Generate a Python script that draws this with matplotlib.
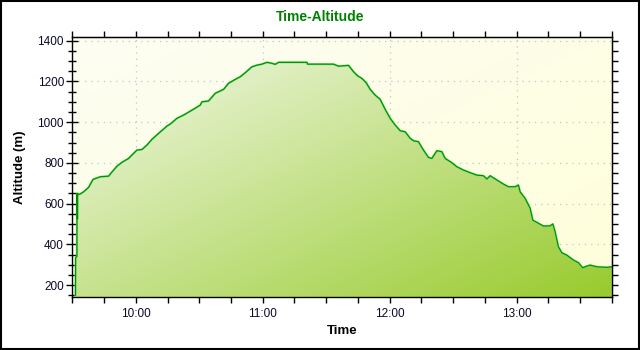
import numpy as np
import pandas as pd
import matplotlib
matplotlib.use('Agg')
import matplotlib.pyplot as plt
import matplotlib.dates as mdates
from matplotlib.patches import Rectangle

plt.rcParams['font.family'] = ['Liberation Sans', 'DejaVu Sans']

# track log: clock time and altitude in metres
times = [
    '09:31:30', '09:31:34', '09:32:10', '09:32:13', '09:32:25', '09:32:30',
    '09:33:19', '09:35:20', '09:37:42', '09:39:47', '09:43:14', '09:47:09',
    '09:48:46', '09:51:07', '09:53:29', '09:56:36', '09:58:58', '10:00:34',
    '10:02:56', '10:05:17', '10:07:39', '10:10:46', '10:14:44', '10:16:18',
    '10:19:28', '10:22:35', '10:26:33', '10:30:28', '10:31:16', '10:34:23',
    '10:37:34', '10:41:29', '10:43:50', '10:47:49', '10:49:22', '10:51:44',
    '10:54:54', '10:57:16', '10:59:37', '11:01:59', '11:04:21', '11:05:55',
    '11:07:28', '11:20:53', '11:21:10', '11:31:53', '11:33:27', '11:35:49',
    '11:40:32', '11:42:54', '11:44:47', '11:46:52', '11:48:54', '11:50:47',
    '11:53:09', '11:55:31', '11:57:52', '12:00:14', '12:02:36', '12:04:58',
    '12:07:19', '12:09:41', '12:11:14', '12:13:36', '12:15:58', '12:18:20',
    '12:19:56', '12:22:18', '12:24:40', '12:26:13', '12:29:23', '12:31:45',
    '12:34:52', '12:38:02', '12:41:12', '12:44:19', '12:45:56', '12:47:29',
    '12:50:39', '12:53:46', '12:56:08', '12:59:17', '13:00:51', '13:01:39',
    '13:04:01', '13:06:23', '13:07:39', '13:09:32', '13:12:40', '13:15:49',
    '13:17:06', '13:18:11', '13:19:44', '13:21:21', '13:23:43', '13:26:50',
    '13:29:11', '13:31:16', '13:33:10', '13:34:43', '13:37:53', '13:42:37',
    '13:45:00',
]
altitude = [
    150, 335, 340, 650, 525, 650,
    645, 658, 680, 719, 732, 735,
    756, 784, 803, 822, 847, 863,
    866, 888, 916, 945, 981, 991,
    1019, 1035, 1059, 1084, 1100, 1104,
    1142, 1161, 1191, 1215, 1223, 1243,
    1272, 1280, 1285, 1294, 1289, 1284,
    1294, 1294, 1285, 1285, 1285, 1275,
    1279, 1248, 1228, 1215, 1194, 1161,
    1133, 1112, 1063, 1019, 986, 958,
    953, 921, 909, 904, 863, 827,
    822, 860, 855, 822, 801, 781,
    765, 752, 740, 737, 721, 737,
    716, 696, 683, 683, 691, 658,
    626, 577, 519, 508, 490, 491,
    500, 462, 388, 359, 347, 323,
    310, 285, 293, 298, 290, 287,
    290,
]

day = '2000-01-01 '
t = pd.to_datetime([day + s for s in times])
x0 = pd.Timestamp(day + '09:30:00')
x1 = pd.Timestamp(day + '13:45:00')

fig = plt.figure(figsize=(6.4, 3.5), dpi=100)
fig.patch.set_facecolor('white')
ax = fig.add_axes([0.113, 0.152, 0.843, 0.743])
ax.set_xlim(x0, x1)
ax.set_ylim(142.5, 1419.6)

# pale yellow background with a soft diagonal shading
gx, gy = np.meshgrid(np.linspace(0, 1, 200), np.linspace(1, 0, 120))
g = (gx + (1 - gy)) / 2
bg0 = np.array([253, 253, 243]) / 255
bg1 = np.array([255, 255, 218]) / 255
bg = bg0 + (bg1 - bg0) * g[..., None]
ax.imshow(bg, extent=[0, 1, 0, 1], transform=ax.transAxes, aspect='auto',
          zorder=0, interpolation='bilinear')

ax.grid(True, which='major', linestyle=(0, (1, 4)), color='#c4c4c4',
        linewidth=0.9, zorder=1)

# area under the altitude line, light green to yellow-green
area = ax.fill_between(t, altitude, 0, color='none', zorder=2)
fg0 = np.array([246, 250, 240]) / 255
fg1 = np.array([152, 203, 46]) / 255
fg = fg0 + (fg1 - fg0) * g[..., None]
im = ax.imshow(fg, extent=[0, 1, 0, 1], transform=ax.transAxes, aspect='auto',
               zorder=2, interpolation='bilinear')
im.set_clip_path(area.get_paths()[0], transform=ax.transData)

ax.plot(t, altitude, color='#72e072', linewidth=1.5, zorder=3)
ax.plot(t, altitude, color='#008a00', linewidth=0.8, zorder=4)

ax.xaxis.set_major_locator(mdates.HourLocator())
ax.xaxis.set_minor_locator(mdates.MinuteLocator(byminute=[0, 15, 30, 45]))
ax.xaxis.set_major_formatter(mdates.DateFormatter('%H:%M'))
ax.yaxis.set_major_locator(plt.MultipleLocator(200))
ax.yaxis.set_minor_locator(plt.MultipleLocator(50))

ax.tick_params(axis='x', which='major', direction='inout', length=8, width=1,
               labelsize=8.5, pad=4)
ax.tick_params(axis='x', which='minor', direction='out', length=4, width=1)
ax.tick_params(axis='y', which='major', direction='inout', length=8, width=1,
               labelsize=8.5, pad=2)
ax.tick_params(axis='y', which='minor', direction='inout', length=6, width=1)
for lbl in ax.get_xticklabels() + ax.get_yticklabels():
    lbl.set_color('#0a0a28')

# short outward ticks along the top and right edges
top = ax.secondary_xaxis('top')
top.xaxis.set_major_locator(mdates.MinuteLocator(byminute=[0, 15, 30, 45]))
top.tick_params(direction='out', length=4, width=1, labeltop=False)
right = ax.secondary_yaxis('right')
right.yaxis.set_major_locator(plt.MultipleLocator(50))
right.tick_params(direction='out', length=4, width=1, labelright=False)

for sp in ax.spines.values():
    sp.set_linewidth(1.0)
    sp.set_color('black')
    sp.set_zorder(5)

ax.set_xlabel('Time', fontsize=9.5, fontweight='bold', labelpad=4)
ax.set_ylabel('Altitude (m)', fontsize=9.5, fontweight='bold', labelpad=8)
fig.text(0.5, 0.951, 'Time-Altitude', ha='center', va='center',
         fontsize=10, fontweight='bold', color='#008000')

fig.patches.append(Rectangle((0.001, 0.002), 0.997, 0.995, transform=fig.transFigure,
                             fill=False, edgecolor='black', linewidth=1.5))

fig.savefig('out.png', dpi=100)
